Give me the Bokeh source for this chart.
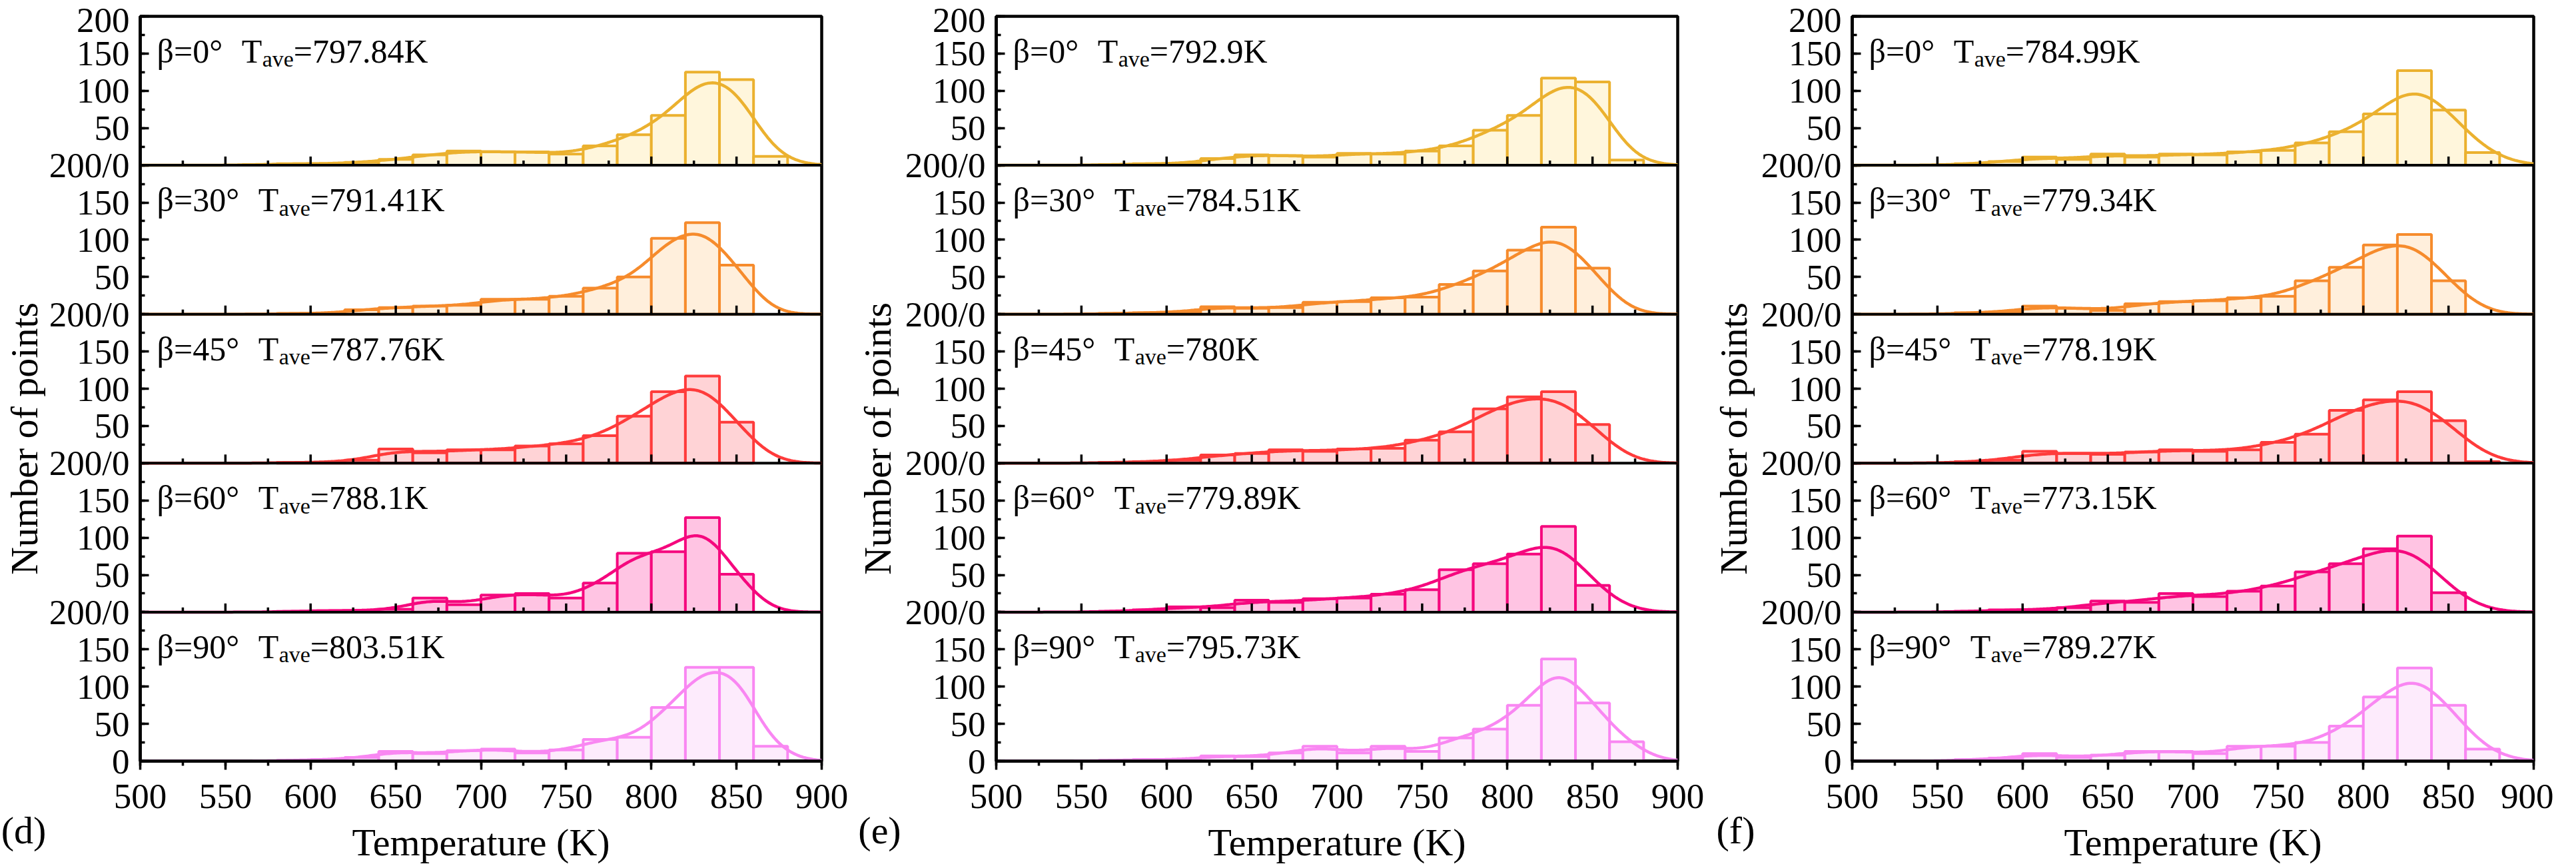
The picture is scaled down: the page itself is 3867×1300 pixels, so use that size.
import numpy as np
from bokeh.plotting import figure
from bokeh.layouts import row
from bokeh.models import Span, SingleIntervalTicker, FixedTicker, Range1d
from bokeh.core.properties import value
from bokeh.embed import file_html
from bokeh.resources import INLINE

# histogram bins: 20 K wide, left edges 500 ... 880
bin_left = list(range(500, 900, 20))
angles = [0, 30, 45, 60, 90]

# counts per bin, one row per angle (beta = 0, 30, 45, 60, 90)
counts_d = [
    [0, 0, 0, 1, 2, 2, 4, 8, 14, 19, 18, 18, 15, 26, 41, 67, 125, 115, 12, 0],
    [0, 0, 0, 0, 1, 1, 6, 9, 11, 12, 20, 20, 24, 35, 50, 102, 123, 66, 0, 0],
    [0, 0, 0, 0, 1, 1, 4, 19, 14, 18, 18, 23, 26, 37, 63, 96, 117, 55, 0, 0],
    [0, 0, 0, 0, 1, 2, 2, 4, 19, 10, 23, 25, 19, 39, 79, 81, 127, 51, 0, 0],
    [0, 0, 0, 0, 1, 2, 5, 13, 10, 14, 16, 11, 15, 29, 32, 72, 126, 126, 20, 0],
]
counts_e = [
    [0, 0, 0, 1, 2, 2, 9, 14, 13, 11, 16, 15, 19, 26, 47, 67, 117, 112, 7, 0],
    [0, 0, 0, 1, 2, 3, 10, 8, 9, 16, 17, 22, 23, 40, 58, 86, 117, 62, 0, 0],
    [0, 0, 0, 1, 2, 4, 11, 13, 18, 16, 19, 20, 31, 42, 73, 89, 96, 52, 0, 0],
    [0, 0, 0, 1, 3, 7, 6, 16, 13, 18, 19, 24, 30, 57, 65, 78, 115, 36, 0, 0],
    [0, 0, 0, 1, 2, 2, 7, 6, 11, 20, 11, 20, 13, 31, 43, 75, 137, 78, 26, 0],
]
counts_f = [
    [0, 0, 0, 2, 5, 11, 8, 15, 11, 15, 14, 18, 20, 30, 45, 69, 127, 74, 17, 0],
    [0, 0, 0, 2, 3, 11, 8, 5, 14, 17, 18, 22, 24, 45, 63, 93, 107, 45, 0, 0],
    [0, 0, 0, 2, 4, 16, 13, 12, 15, 18, 16, 18, 28, 39, 71, 85, 96, 57, 2, 0],
    [0, 0, 0, 1, 3, 3, 6, 15, 13, 25, 21, 28, 35, 54, 65, 85, 102, 26, 0, 0],
    [0, 0, 0, 2, 4, 10, 5, 8, 13, 13, 10, 20, 20, 25, 47, 86, 125, 75, 16, 0],
]
tave_d = ["797.84", "791.41", "787.76", "788.1", "803.51"]
tave_e = ["792.9", "784.51", "780", "779.89", "795.73"]
tave_f = ["784.99", "779.34", "778.19", "773.15", "789.27"]
tags = ["(d)", "(e)", "(f)"]

line_colors = ["#EBB12F", "#F68B2C", "#FF3B3B", "#F5087E", "#F987F2"]
fill_colors = ["#FFF6DC", "#FFEFDC", "#FFD3D6", "#FFC4E3", "#FDEBFC"]

FONT = "Liberation Serif"
FRAME_W, FRAME_H = 1023, 1118
PANEL = 200
BW_SCALE = 1.15
STRIP_W = 70
TITLE_Y = 484  # y title centre, px above the frame bottom

# em widths (Times metrics) for placing the label pieces
EM = {"0": 0.5, "1": 0.5, "2": 0.5, "3": 0.5, "4": 0.5, "5": 0.5, "6": 0.5,
      "7": 0.5, "8": 0.5, "9": 0.5, "=": 0.564, "°": 0.4, "β": 0.5}


def text_w(s, size):
    return sum(EM.get(ch, 0.5) for ch in s) * size


def kde(counts, xs):
    c = np.array(bin_left) + 10.0
    n = np.array(counts, dtype=float)
    total = n.sum()
    mean = (c * n).sum() / total
    sd = np.sqrt(((c - mean) ** 2 * n).sum() / total)
    edges = np.array(bin_left + [900], dtype=float)
    cum = np.concatenate([[0.0], np.cumsum(n) / total])
    q1 = np.interp(0.25, cum, edges)
    q3 = np.interp(0.75, cum, edges)
    h = BW_SCALE * 0.9 * min(sd, (q3 - q1) / 1.34) * total ** -0.2
    z = (xs[:, None] - c[None, :]) / h
    return (n[None, :] * np.exp(-0.5 * z ** 2)).sum(axis=1) * 20 / (h * np.sqrt(2 * np.pi))


def style_xaxis(ax, label_standoff):
    ax.major_tick_out = 13
    ax.major_tick_in = 0
    ax.minor_tick_out = 7
    ax.minor_tick_in = 0
    ax.major_label_text_font = FONT
    ax.major_label_text_font_size = "53px"
    ax.major_label_standoff = 22
    ax.axis_label_text_font = FONT
    ax.axis_label_text_font_size = "58px"
    ax.axis_label_text_font_style = "normal"
    ax.axis_label_text_color = "black"
    ax.axis_label_standoff = label_standoff


def make_strip(tag, title_x):
    # narrow blank figure left of each column: y title and panel tag
    s = figure(frame_width=STRIP_W, frame_height=FRAME_H,
               x_range=Range1d(0, STRIP_W), y_range=Range1d(0, FRAME_H),
               min_border_left=0, min_border_right=0, min_border_top=24, min_border_bottom=142,
               y_axis_type=None, output_backend="svg", toolbar_location=None, tools="")
    s.outline_line_color = None
    s.grid.visible = False
    ax = s.xaxis[0]
    style_xaxis(ax, 58)
    ax.ticker = FixedTicker(ticks=[STRIP_W / 2])
    ax.axis_line_color = None
    ax.major_tick_line_color = None
    ax.minor_tick_line_color = None
    ax.major_label_text_color = None
    ax.axis_label = tag
    s.text(x=[title_x], y=[TITLE_Y], text=["Number of points"], angle=np.pi / 2,
           text_align="center", text_baseline="middle",
           text_font=value(FONT), text_font_size="58px", text_color="black")
    return s


def make_column(counts_list, tave_list, border_right):
    p = figure(x_range=Range1d(500, 900), y_range=Range1d(0, 5 * PANEL),
               frame_width=FRAME_W, frame_height=FRAME_H,
               min_border_left=140, min_border_right=border_right,
               min_border_top=24, min_border_bottom=142,
               output_backend="svg", toolbar_location=None, tools="")
    p.grid.visible = False
    p.outline_line_color = "black"
    p.outline_line_width = 4.5

    xs = np.linspace(500, 900, 401)
    for i, counts in enumerate(counts_list):
        base = (4 - i) * PANEL
        left = [b for b, v in zip(bin_left, counts) if v > 0]
        tops = [base + v for v in counts if v > 0]
        p.quad(left=left, right=[b + 20 for b in left], bottom=base, top=tops,
               fill_color=fill_colors[i], line_color=line_colors[i], line_width=4)
        p.line(xs, base + kde(counts, xs), line_color=line_colors[i], line_width=4.5)

        top = base + PANEL
        x0 = 25
        p.text(x=[500], y=[top], text=[f"β={angles[i]}°"], x_offset=x0, y_offset=52,
               text_font=value(FONT), text_font_size="50px", text_baseline="alphabetic")
        xt = x0 + text_w(f"β={angles[i]}°", 50) + 29
        p.text(x=[500], y=[top], text=["T"], x_offset=xt, y_offset=52,
               text_font=value(FONT), text_font_size="50px", text_baseline="alphabetic")
        xs_sub = xt + 31
        p.text(x=[500], y=[top], text=["ave"], x_offset=xs_sub, y_offset=64,
               text_font=value(FONT), text_font_size="34px", text_baseline="alphabetic")
        p.text(x=[500], y=[top], text=[f"={tave_list[i]}K"], x_offset=xs_sub + 47, y_offset=52,
               text_font=value(FONT), text_font_size="50px", text_baseline="alphabetic")

    # panel separators with inward x ticks
    units_per_px = 5 * PANEL / FRAME_H
    tx, ty0, ty1 = [], [], []
    for k in range(1, 5):
        p.add_layout(Span(location=k * PANEL, dimension="width", line_color="black", line_width=4))
        for x in range(525, 900, 25):
            tx.append(x)
            ty0.append(k * PANEL)
            ty1.append(k * PANEL + (13 if x % 50 == 0 else 7) * units_per_px)
    p.segment(x0=tx, y0=ty0, x1=tx, y1=ty1, line_color="black", line_width=3.5, line_cap="butt")

    p.xaxis.ticker = SingleIntervalTicker(interval=50, num_minor_ticks=2)
    p.yaxis.ticker = SingleIntervalTicker(interval=50, num_minor_ticks=2)
    overrides = {}
    for v in range(0, 5 * PANEL + 1, 50):
        if v == 0:
            overrides[v] = "0"
        elif v == 5 * PANEL:
            overrides[v] = "200"
        elif v % PANEL == 0:
            overrides[v] = "200/0"
        else:
            overrides[v] = str(v % PANEL)
    p.yaxis.major_label_overrides = overrides

    for ax in (p.xaxis[0], p.yaxis[0]):
        ax.axis_line_width = 4.5
        ax.axis_line_color = "black"
        ax.major_tick_line_width = 3.5
        ax.minor_tick_line_width = 3.5
        ax.major_label_text_font = FONT
        ax.major_label_text_font_size = "53px"
        ax.major_label_text_color = "black"

    style_xaxis(p.xaxis[0], 16)
    p.xaxis.axis_label = "Temperature (K)"

    p.yaxis.major_tick_out = 0
    p.yaxis.major_tick_in = 13
    p.yaxis.minor_tick_out = 0
    p.yaxis.minor_tick_in = 7
    p.yaxis.major_label_standoff = 16
    return p


s_d = make_strip(tags[0], 36)
p_d = make_column(counts_d, tave_d, 52)
s_e = make_strip(tags[1], 32)
p_e = make_column(counts_e, tave_e, 52)
s_f = make_strip(tags[2], 32)
p_f = make_column(counts_f, tave_f, 30)
layout = row(s_d, p_d, s_e, p_e, s_f, p_f, spacing=0)

open("out.html", "w").write(file_html(layout, INLINE))
